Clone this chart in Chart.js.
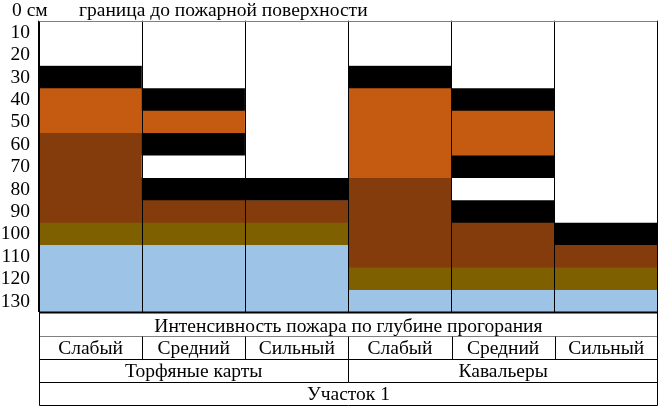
<!DOCTYPE html>
<html lang="ru">
<head>
  <meta charset="UTF-8">
  <title>Глубина прогорания</title>
  <script src="https://cdn.jsdelivr.net/npm/chart.js"></script>
  <style>
    body { margin: 0; background: #fff; }
    .chart-box { position: relative; width: 670px; height: 414px; }
  </style>
</head>
<body>
<div class="chart-box"><canvas id="depthChart"></canvas></div>
<script>
  // Категории (интенсивность) и группы участков
  const categories = ['Слабый', 'Средний', 'Сильный', 'Слабый', 'Средний', 'Сильный'];
  const groups = ['Торфяные карты', 'Кавальеры'];
  const depthLabels = ['10', '20', '30', '40', '50', '60', '70', '80', '90', '100', '110', '120', '130'];

  // Толщина слоёв, см (сверху вниз)
  const unburnt = [20, 30, 70, 20, 30, 90];
  const burnLine1 = [10, 10, 10, 10, 10, 10];
  const orangeLayer = [20, 10, 0, 40, 20, 0];
  const burnLine2 = [0, 10, 0, 0, 10, 0];
  const unburnt2 = [0, 10, 0, 0, 10, 0];
  const burnLine3 = [0, 10, 0, 0, 10, 0];
  const brownLayer = [40, 10, 10, 40, 20, 10];
  const oliveLayer = [10, 10, 10, 10, 10, 10];
  const blueLayer = [30, 30, 30, 10, 10, 10];

  const FONT = '"Liberation Serif", "Times New Roman", serif';
  const FSIZE = 19.5;

  function layer(label, data, color) {
    return { label: label, data: data, backgroundColor: color, borderWidth: 0 };
  }

  // таблица под графиком и подпись сверху
  const tablePlugin = {
    id: 'tableFrame',
    afterDraw(chart) {
      const ctx = chart.ctx;
      const area = chart.chartArea;
      const xs = chart.scales.x;
      const left = Math.round(area.left) + 0.5;
      const right = Math.round(area.right) - 0.5;
      const top = Math.round(area.top) + 0.5;
      const r1 = Math.round(area.bottom) + 0.5;
      const r2 = r1 + 24, r3 = r1 + 47, r4 = r1 + 70, r5 = r1 + 93;
      const bound = i => Math.round((xs.getPixelForValue(i) + xs.getPixelForValue(i + 1)) / 2) + 0.5;

      ctx.save();
      ctx.lineWidth = 1;
      ctx.strokeStyle = '#808080';
      ctx.beginPath();
      ctx.moveTo(left, top); ctx.lineTo(right, top);
      ctx.moveTo(left, r2); ctx.lineTo(right, r2);
      ctx.stroke();

      ctx.strokeStyle = '#000';
      ctx.beginPath();
      ctx.moveTo(left, top); ctx.lineTo(left, r5);
      ctx.moveTo(right, top); ctx.lineTo(right, r5);
      [r1, r3, r4, r5].forEach(y => { ctx.moveTo(left, y); ctx.lineTo(right, y); });
      for (let i = 0; i < categories.length - 1; i++) {
        ctx.moveTo(bound(i), r2); ctx.lineTo(bound(i), r3);
      }
      ctx.moveTo(bound(2), r3); ctx.lineTo(bound(2), r4);
      ctx.stroke();
      ctx.lineWidth = 2;
      ctx.beginPath();
      ctx.moveTo(left, r1); ctx.lineTo(right, r1);
      ctx.stroke();

      ctx.fillStyle = '#000';
      ctx.font = FSIZE + 'px ' + FONT;
      ctx.textBaseline = 'alphabetic';
      ctx.textAlign = 'left';
      ctx.fillText('0 см', 12, 16);
      ctx.fillText('граница до пожарной поверхности', 79, 16);

      ctx.textAlign = 'center';
      const mid = (area.left + area.right) / 2;
      ctx.fillText('Интенсивность пожара по глубине прогорания', mid, r1 + 19);
      ctx.fillText(groups[0], (area.left + bound(2)) / 2, r3 + 17);
      ctx.fillText(groups[1], (bound(2) + area.right) / 2, r3 + 17);
      ctx.fillText('Участок 1', mid, r4 + 17);
      ctx.restore();
    }
  };

  new Chart(document.getElementById('depthChart'), {
    type: 'bar',
    data: {
      labels: categories,
      datasets: [
        layer('Непрогоревший слой', unburnt, '#ffffff'),
        layer('Граница 1', burnLine1, '#000000'),
        layer('Слой 1', orangeLayer, '#c55a11'),
        layer('Граница 2', burnLine2, '#000000'),
        layer('Непрогоревший слой 2', unburnt2, '#ffffff'),
        layer('Граница 3', burnLine3, '#000000'),
        layer('Слой 2', brownLayer, '#843c0c'),
        layer('Слой 3', oliveLayer, '#7f6000'),
        layer('Слой 4', blueLayer, '#9dc3e6')
      ]
    },
    options: {
      responsive: true,
      maintainAspectRatio: false,
      animation: false,
      categoryPercentage: 1,
      barPercentage: 1,
      layout: { padding: { left: 0, top: 20, right: 9, bottom: 0 } },
      plugins: {
        legend: { display: false },
        tooltip: { enabled: false }
      },
      scales: {
        x: {
          stacked: true,
          afterFit: scale => { scale.height = 102; },
          grid: { color: '#000', lineWidth: 1, offset: true, drawTicks: false, z: 1 },
          border: { display: false },
          ticks: { color: '#000', padding: 25, maxRotation: 0, autoSkip: false, font: { family: FONT, size: FSIZE } }
        },
        y: {
          stacked: true,
          reverse: true,
          min: 0,
          max: 130,
          afterFit: scale => { scale.width = 39; },
          grid: { display: false, drawTicks: false },
          border: { display: false },
          ticks: {
            stepSize: 10,
            autoSkip: false,
            padding: 9,
            labelOffset: 12,
            color: '#000',
            font: { family: FONT, size: FSIZE },
            callback: v => v < 130 ? depthLabels[v / 10] : ''
          }
        }
      }
    },
    plugins: [tablePlugin]
  });
</script>
</body>
</html>
